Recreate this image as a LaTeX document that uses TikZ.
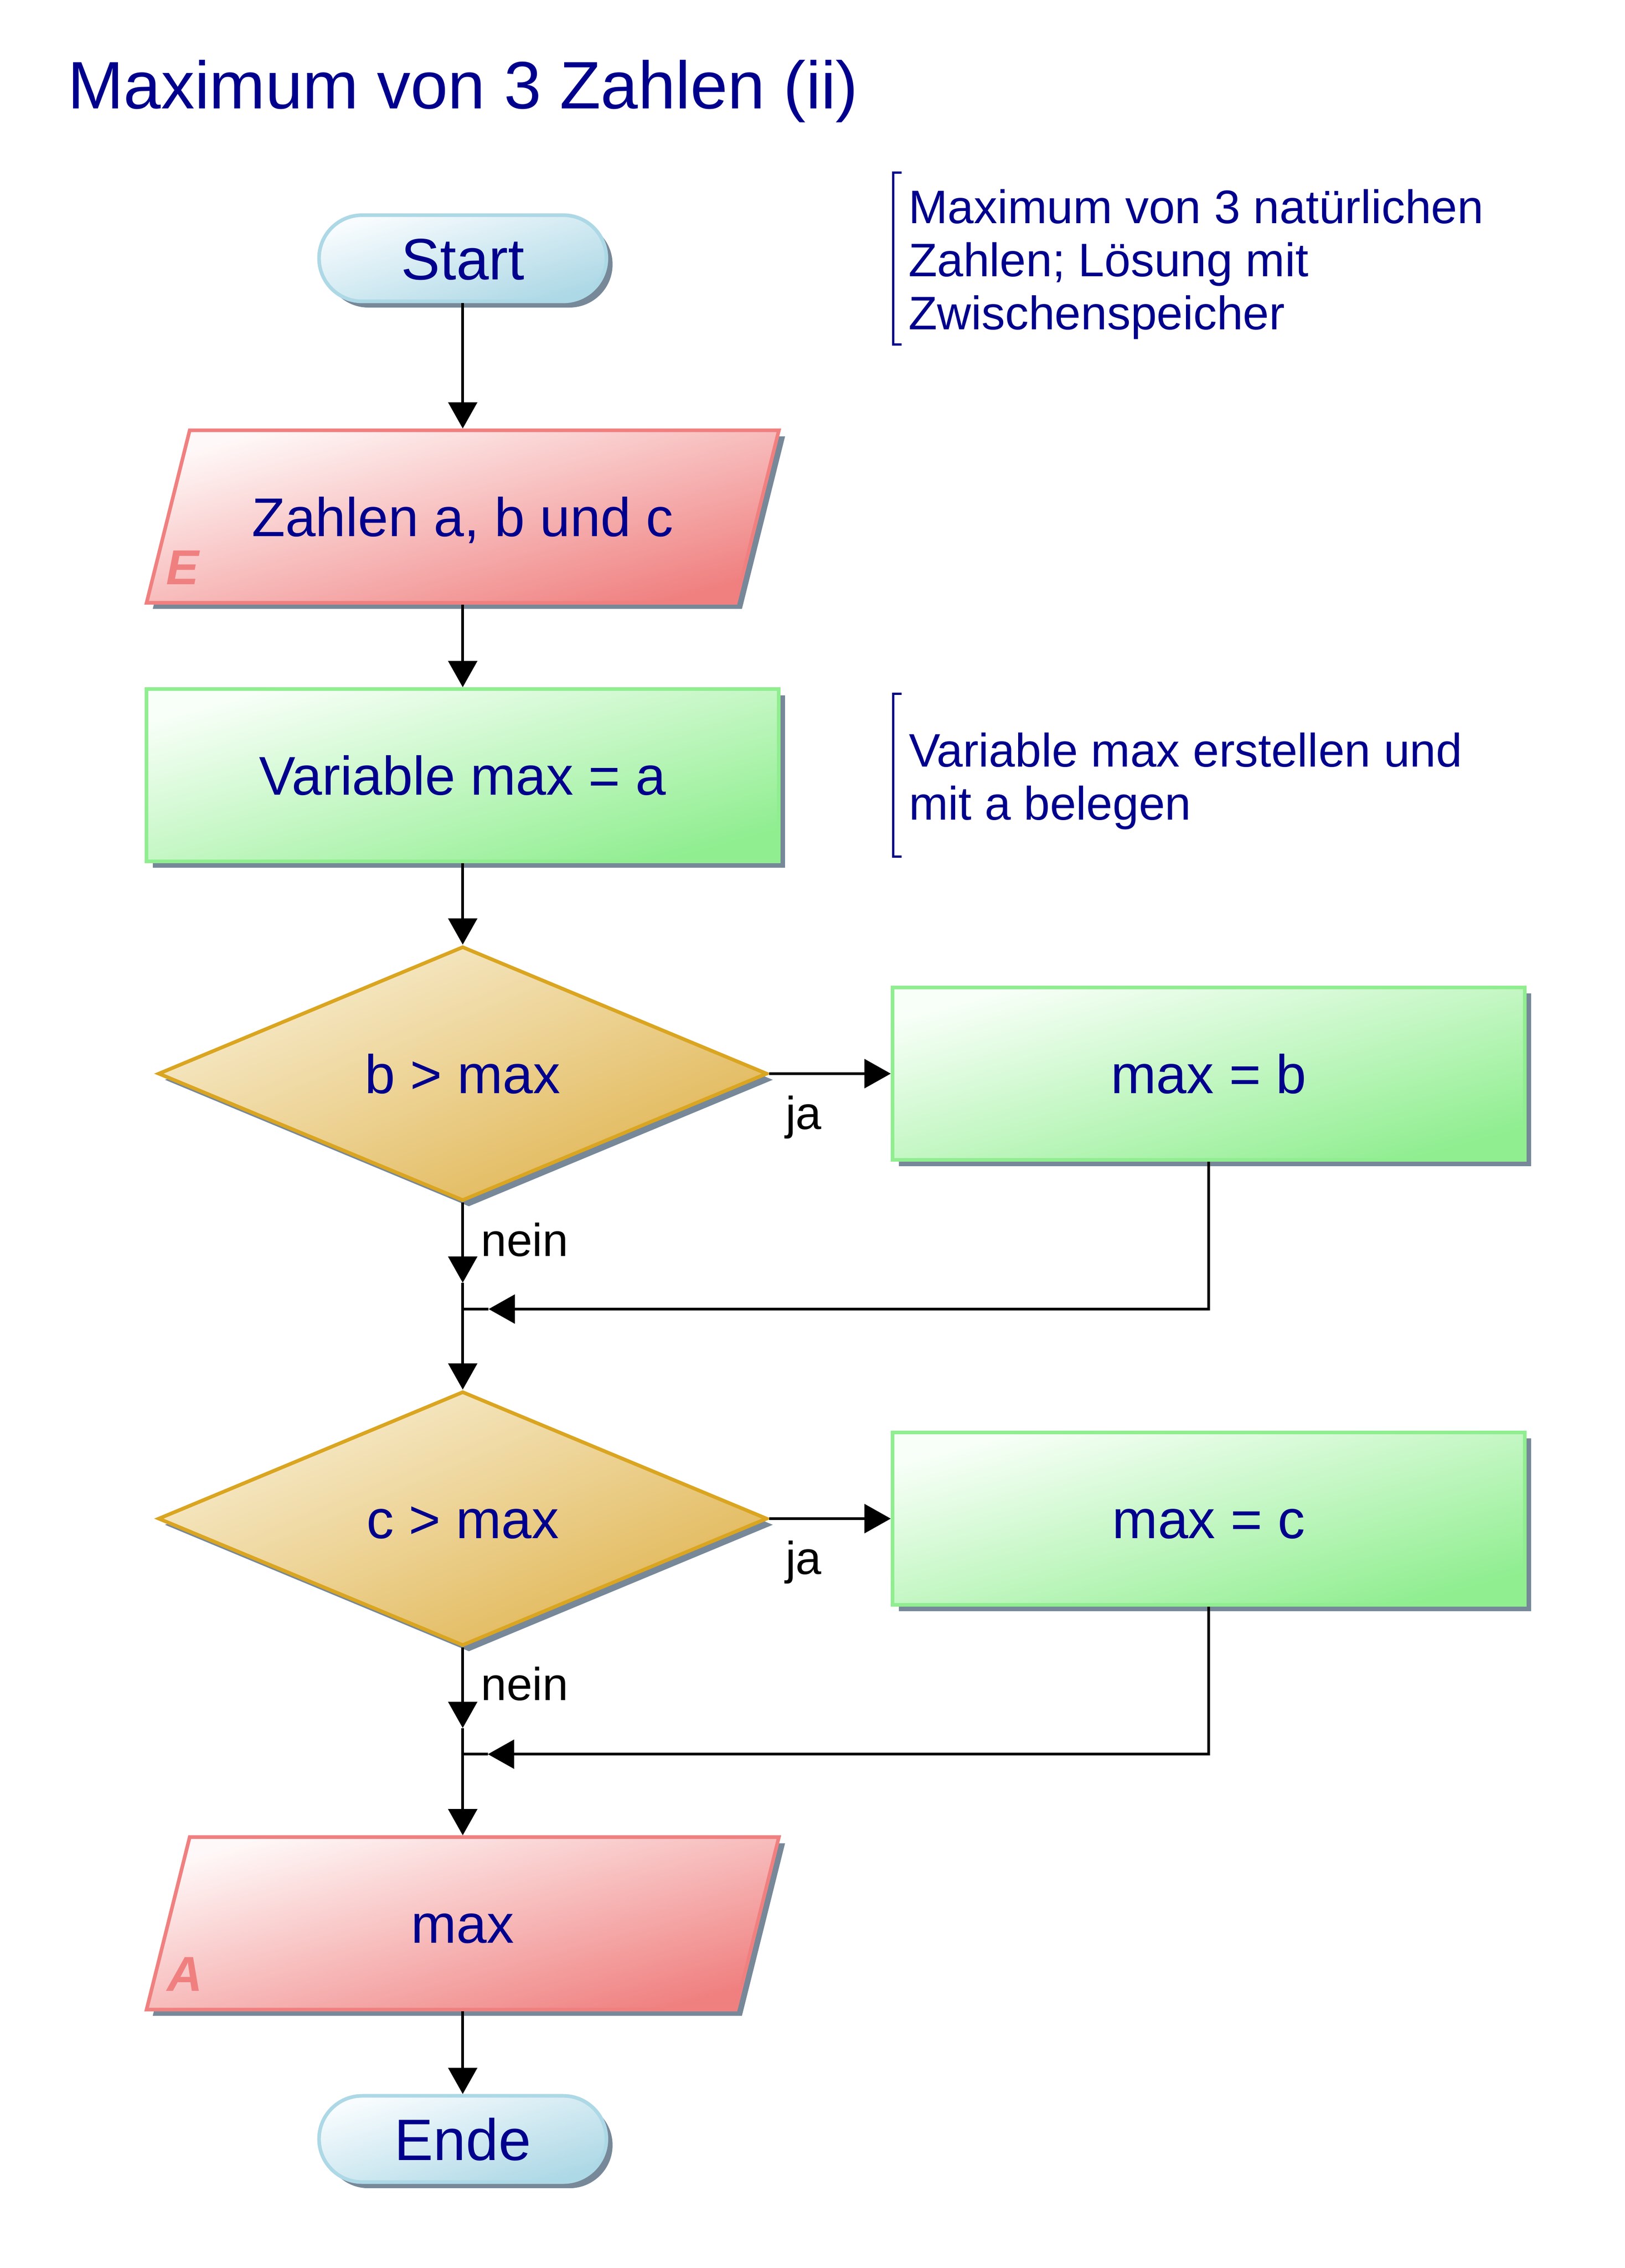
\documentclass[tikz,border=0pt]{standalone}
\usepackage{fontspec}
\setmainfont{Liberation Sans}
\usetikzlibrary{shapes.geometric,shadows,arrows.meta}
\definecolor{txtblue}{RGB}{0,0,140}
\definecolor{termBord}{RGB}{173,216,230}
\definecolor{termLight}{RGB}{248,252,254}
\definecolor{ioBord}{RGB}{240,128,128}
\definecolor{ioLight}{RGB}{255,248,248}
\definecolor{procBord}{RGB}{144,238,144}
\definecolor{procLight}{RGB}{248,255,248}
\definecolor{decBord}{RGB}{218,165,32}
\definecolor{decLight}{RGB}{248,238,210}
\definecolor{decDark}{RGB}{224,180,80}
\definecolor{shadowcol}{RGB}{119,136,153}
\begin{document}
\begin{tikzpicture}[x=0.035cm,y=-0.035cm,
  every node/.style={inner sep=0pt},
  shadowed/.style={drop shadow={shadow xshift=0.15cm,shadow yshift=-0.15cm,fill=shadowcol,opacity=1}},
  boxtext/.style={font=\fontsize{37.8}{45}\selectfont, text=txtblue, text height=27.2pt, text depth=0pt},
  termbox/.style={shadowed, draw=termBord, line width=2.5pt, rounded corners=1.05cm,
    minimum width=7cm, minimum height=2.1cm,
    top color=termLight, bottom color=termBord, shading angle=16.7,
    font=\fontsize{40.5}{48}\selectfont, text=txtblue, text height=29.5pt, text depth=0pt},
  ioshape/.style={shadowed, draw=ioBord, line width=2.5pt,
    top color=ioLight, bottom color=ioBord, shading angle=15.3},
  iotext/.style={boxtext, rectangle, minimum width=15.4cm, minimum height=4.2cm, outer sep=1.25pt},
  procbox/.style={shadowed, boxtext, rectangle, draw=procBord, line width=2.5pt,
    minimum width=15.4cm, minimum height=4.2cm,
    top color=procLight, bottom color=procBord, shading angle=15.3},
  decbox/.style={shadowed, boxtext, diamond, aspect=2.4, draw=decBord, line width=2.5pt,
    minimum width=14.84cm, minimum height=6.195cm,
    top color=decLight, bottom color=decDark, shading angle=22.7},
  iolabel/.style={font=\fontsize{34}{40}\selectfont\bfseries\itshape, text=ioBord},
  cmttext/.style={font=\fontsize{32.6}{36.7}\selectfont, text=txtblue},
  lbl/.style={font=\fontsize{32}{38}\selectfont, text=black},
  bracket/.style={draw=txtblue, line width=1.7pt},
  conn/.style={line width=2pt},
  arr/.style={line width=2pt, -{Triangle[length=0.64cm,width=0.7cm]}}
]
\useasboundingbox (0,0) rectangle (1130.57,1578);

% title
\node[font=\fontsize{46.5}{55}\selectfont, text=txtblue, anchor=base west] (title) at (47,75.7) {Maximum von 3 Zahlen (ii)};

% comments
\node[cmttext, anchor=base west] (cm1) at (632,155.5)
  {\vtop{\baselineskip=36.7pt\hbox{Maximum von 3 natürlichen}\hbox{Zahlen; Lösung mit}\hbox{Zwischenspeicher}}};
\draw[bracket] (627.5,120) -- (621.5,120) -- (621.5,239.7) -- (627.5,239.7);
\node[cmttext, anchor=base west] (cm2) at (632.3,533.5)
  {\vtop{\baselineskip=36.8pt\hbox{Variable max erstellen und}\hbox{mit a belegen}}};
\draw[bracket] (627.5,482.8) -- (621.5,482.8) -- (621.5,596) -- (627.5,596);

% shapes
\node[termbox] (start) at (322,179.7) {Start};
\path[ioshape] (132,299.4) -- (542,299.4) -- (512,419.4) -- (102,419.4) -- cycle;
\node[iotext] (inp) at (322,359.4) {Zahlen a, b und c};
\node[iolabel, anchor=base west] (inE) at (115.6,406.8) {E};
\node[procbox] (var) at (322,539.4) {Variable max = a};
\node[decbox] (d1) at (322,747) {b > max};
\node[procbox] (mb) at (841.1,747) {max = b};
\node[decbox] (d2) at (322,1056.6) {c > max};
\node[procbox] (mc) at (841.1,1056.6) {max = c};
\path[ioshape] (132,1278.2) -- (542,1278.2) -- (512,1398.2) -- (102,1398.2) -- cycle;
\node[iotext] (out) at (322,1338.2) {max};
\node[iolabel, anchor=base west] (outA) at (116,1385.2) {A};
\node[termbox] (ende) at (322,1488.2) {Ende};

% labels
\node[lbl, anchor=base west] (ja1) at (546.5,785.8) {ja};
\node[lbl, anchor=base west] (nein1) at (334.5,873.9) {nein};
\node[lbl, anchor=base west] (ja2) at (546.5,1095.2) {ja};
\node[lbl, anchor=base west] (nein2) at (334.5,1183) {nein};

% junction coordinates
\coordinate (j1) at (322,910.8);
\coordinate (n1) at (322,892.5);
\coordinate (m1) at (340,910.8);
\coordinate (j2) at (322,1220.5);
\coordinate (n2) at (322,1202.3);
\coordinate (m2) at (339.5,1220.5);

% connectors
\draw[arr] (start.south) -- (inp.north);
\draw[arr] (inp.south) -- (var.north);
\draw[arr] (var.south) -- (d1.north);
\draw[arr] (d1.east) -- (mb.west);
\draw[arr] (d1.south) -- (n1);
\draw[arr] (n1) -- (d2.north);
\draw[arr] (mb.south) |- (m1);
\draw[conn] (m1) -- (j1);
\draw[arr] (d2.east) -- (mc.west);
\draw[arr] (d2.south) -- (n2);
\draw[arr] (n2) -- (out.north);
\draw[arr] (mc.south) |- (m2);
\draw[conn] (m2) -- (j2);
\draw[arr] (out.south) -- (ende.north);
\end{tikzpicture}
\end{document}
